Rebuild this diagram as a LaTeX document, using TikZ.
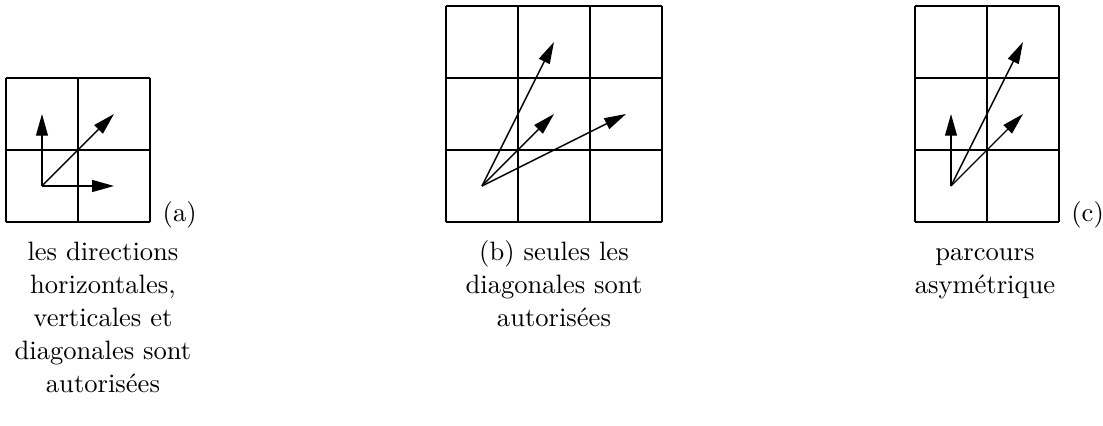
\documentclass[tikz,border=0pt]{standalone}
\usepackage{fontspec}
\usetikzlibrary{arrows.meta}
\begin{document}
\begin{tikzpicture}[x=1cm,y=1cm,
  gridline/.style={line width=0.8pt},
  move/.style={line width=0.55pt,-{Triangle[length=8.6pt,width=4.7pt]}},
  caption/.style={align=center,anchor=base,inner sep=0pt,font=\fontsize{10.5}{13}\selectfont},
  tag/.style={anchor=base west,inner sep=0pt,font=\fontsize{10.5}{13}\selectfont}]
\useasboundingbox (-0.083,-2.833) rectangle (15.236,3.083);
% grid (a)
\draw[gridline] (0,0) grid (2,2);
\coordinate (ao) at (0.5,0.5);
\coordinate (au) at (0.5,1.5);
\coordinate (ar) at (1.5,0.5);
\coordinate (ad) at (1.5,1.5);
\draw[move] (ao) -- (au);
\draw[move] (ao) -- (ar);
\draw[move] (ao) -- (ad);
\node[tag] (la) at (2.17,0) {(a)};
\node[caption] (ca) at (1.347,-2.368) {les directions\\horizontales,\\verticales et\\diagonales sont\\autorisées};
% grid (b)
\begin{scope}[shift={(6.111,0)}]
\draw[gridline] (0,0) grid (3,3);
\coordinate (bo) at (0.5,0.5);
\coordinate (b1) at (1.5,1.5);
\coordinate (b2) at (2.5,1.5);
\coordinate (b3) at (1.5,2.5);
\end{scope}
\draw[move] (bo) -- (b1);
\draw[move] (bo) -- (b2);
\draw[move] (bo) -- (b3);
\node[caption] (cb) at (7.611,-1.454) {(b) seules les\\diagonales sont\\autorisées};
% grid (c)
\begin{scope}[shift={(12.625,0)}]
\draw[gridline] (0,0) grid (2,3);
\coordinate (co) at (0.5,0.5);
\coordinate (c1) at (0.5,1.5);
\coordinate (c2) at (1.5,1.5);
\coordinate (c3) at (1.5,2.5);
\end{scope}
\draw[move] (co) -- (c1);
\draw[move] (co) -- (c2);
\draw[move] (co) -- (c3);
\node[tag] (lc) at (14.79,0) {(c)};
\node[caption] (cc) at (13.597,-0.997) {parcours\\asymétrique};
\end{tikzpicture}
\end{document}
